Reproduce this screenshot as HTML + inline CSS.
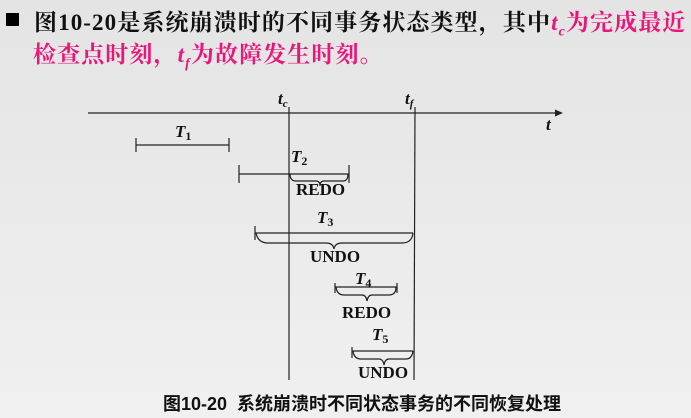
<!DOCTYPE html>
<html><head><meta charset="utf-8"><style>
html,body{margin:0;padding:0}
body{width:691px;height:418px;overflow:hidden;background:linear-gradient(#e4e4e4,#f0f0f0);position:relative;font-family:"Liberation Serif","Noto Serif CJK SC",serif}
.l{position:absolute;font-size:23px;font-weight:bold;white-space:nowrap;letter-spacing:1.1px}
.p{color:#e8177a}
i{font-family:"Liberation Serif",serif}
</style></head><body>
<div style="position:absolute;left:6px;top:13px;width:13px;height:13px;background:#000"></div>
<div class="l" style="left:34px;top:4px;color:#111">图10-20是系统崩溃时的不同事务状态类型，其中<span class="p"><i>t<sub style="font-size:14px">c</sub></i>为完成最近</span></div>
<div class="l p" style="left:33px;top:36px">检查点时刻，<i>t<sub style="font-size:14px">f</sub></i>为故障发生时刻。</div>
<svg width="691" height="418" style="position:absolute;left:0;top:0" font-family="Liberation Serif,serif">
<g stroke="#222" stroke-width="1.2" fill="none">
<line x1="88" y1="113" x2="558" y2="113"/>
<line x1="289" y1="107" x2="289" y2="380"/>
<line x1="415" y1="107" x2="414" y2="380"/>
<line x1="136" y1="145" x2="229" y2="145"/><line x1="136" y1="138" x2="136" y2="152"/><line x1="229" y1="138" x2="229" y2="152"/>
<line x1="239" y1="174" x2="349" y2="174"/><line x1="239" y1="165" x2="239" y2="183"/><line x1="349" y1="165" x2="349" y2="183"/>
<path d="M290 174 Q290 181 296 181 L316 181 Q320 181 320 186 Q320 181 324 181 L343 181 Q348 181 348 174"/>
<line x1="255" y1="233" x2="413" y2="233"/><line x1="255" y1="226" x2="255" y2="240"/>
<path d="M256 233 Q258 243 268 243 L326 243 Q333 243 334 249 Q335 243 342 243 L402 243 Q412 243 413 233"/>
<line x1="335" y1="287" x2="397" y2="287"/><line x1="335" y1="283" x2="335" y2="293"/><line x1="397" y1="283" x2="397" y2="293"/>
<path d="M336 287 Q337 295 344 295 L362 295 Q366 295 367 301 Q368 295 372 295 L389 295 Q396 295 396 287"/>
<line x1="352" y1="351" x2="413" y2="351"/><line x1="352" y1="347" x2="352" y2="358"/>
<path d="M353 351 Q354 359 361 359 L379 359 Q383 359 384 365 Q385 359 389 359 L406 359 Q412 359 413 351"/>
</g>
<path d="M563 113 L555 109.5 L555 116.5 Z" fill="#222"/>
<g fill="#111" font-style="italic" font-weight="bold" font-size="17">
<text x="278" y="104">t<tspan font-size="11" dy="3">c</tspan></text>
<text x="405" y="104">t<tspan font-size="11" dy="3">f</tspan></text>
<text x="546" y="130">t</text>
<text x="175" y="137">T<tspan font-size="12" dy="3" font-style="normal">1</tspan></text>
<text x="291" y="162">T<tspan font-size="12" dy="3" font-style="normal">2</tspan></text>
<text x="317" y="223">T<tspan font-size="12" dy="3" font-style="normal">3</tspan></text>
<text x="355" y="284">T<tspan font-size="12" dy="3" font-style="normal">4</tspan></text>
<text x="372" y="340">T<tspan font-size="12" dy="3" font-style="normal">5</tspan></text>
</g>
<g fill="#111" font-weight="bold" font-size="17">
<text x="296" y="195">REDO</text>
<text x="310" y="262">UNDO</text>
<text x="342" y="318">REDO</text>
<text x="358" y="378">UNDO</text>
</g>
<text x="163" y="410" font-family="Liberation Sans,Noto Sans CJK SC,sans-serif" font-weight="bold" font-size="18" fill="#111" xml:space="preserve">图10-20  系统崩溃时不同状态事务的不同恢复处理</text>
</svg>
</body></html>
